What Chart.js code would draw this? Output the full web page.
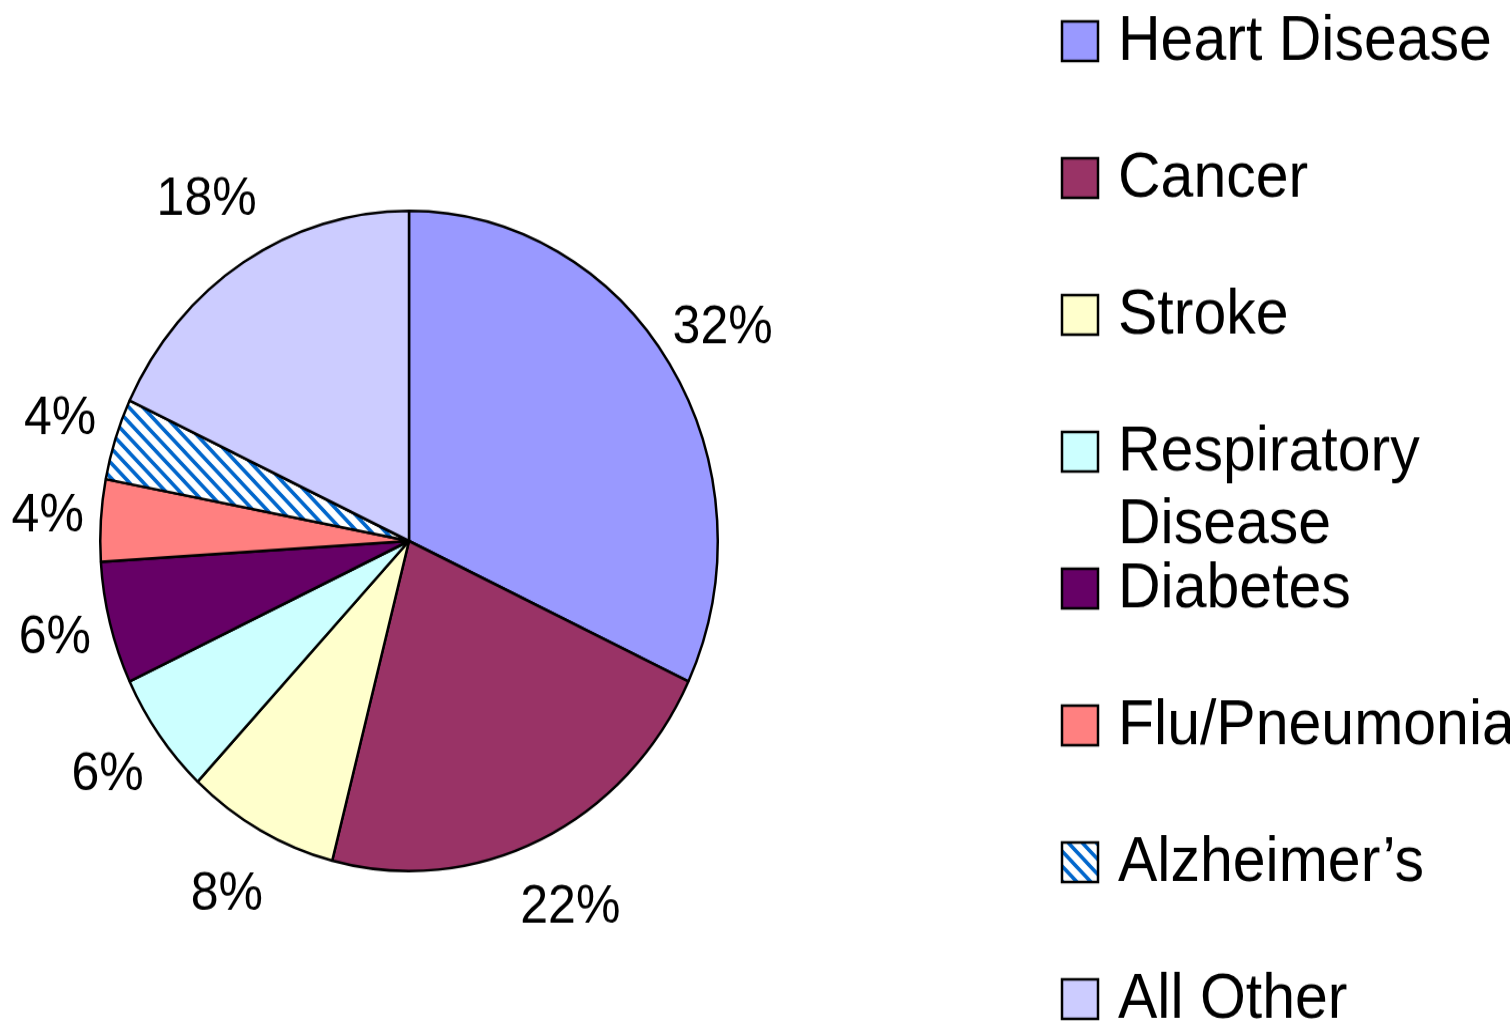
<!DOCTYPE html>
<html>
<head>
<meta charset="utf-8">
<script src="https://cdn.jsdelivr.net/npm/chart.js@4"></script>
<style>
  html, body { margin: 0; padding: 0; background: #fff; overflow: hidden; }
  canvas { display: block; }
</style>
</head>
<body>
<!-- drawn at 955px high, shown stretched to 1021px like the original picture -->
<canvas id="causes" width="1510" height="955" style="width:1510px;height:1021px"></canvas>
<script>
let causeLabels = ['Heart Disease', 'Cancer', 'Stroke', 'Respiratory Disease', 'Diabetes', 'Flu/Pneumonia', 'Alzheimer\u2019s', 'All Other']
let causeShares = [32, 22, 8, 6, 6, 4, 4, 18]
let causeColors = ['#9999FF', '#993366', '#FFFFCC', '#CCFFFF', '#660066', '#FF8080', 'hatch', '#CCCCFF']

// blue diagonal stripes for the Alzheimer's slice
function makeHatch() {
  let tile = document.createElement('canvas')
  tile.width = 14
  tile.height = 14
  let c = tile.getContext('2d')
  c.fillStyle = '#fff'
  c.fillRect(0, 0, 14, 14)
  c.strokeStyle = '#0066CC'
  c.lineWidth = 3.6
  c.beginPath()
  c.moveTo(-7, -7); c.lineTo(21, 21)
  c.moveTo(-7, 7); c.lineTo(7, 21)
  c.moveTo(7, -7); c.lineTo(21, 7)
  c.stroke()
  return c.createPattern(tile, 'repeat')
}
let hatch = makeHatch()
let fills = causeColors.map(c => c === 'hatch' ? hatch : c)

const FONT = '"Liberation Sans", Arial, sans-serif'

let pieLabels = {
  id: 'pieLabels',
  afterDatasetsDraw(chart) {
    let ctx = chart.ctx
    let meta = chart.getDatasetMeta(0)
    ctx.save()
    ctx.font = '50px ' + FONT
    ctx.fillStyle = '#000'
    ctx.textAlign = 'center'
    ctx.textBaseline = 'middle'
    meta.data.forEach((arc, i) => {
      let p = arc.getProps(['x', 'y', 'startAngle', 'endAngle', 'outerRadius'], true)
      let mid = (p.startAngle + p.endAngle) / 2
      let r = p.outerRadius + 52 + 20 * Math.abs(Math.sin(mid))
      ctx.fillText(causeShares[i] + '%', p.x + Math.cos(mid) * r, p.y + Math.sin(mid) * r)
    })
    ctx.restore()
  }
}

let sideLegend = {
  id: 'sideLegend',
  afterDraw(chart) {
    let ctx = chart.ctx
    ctx.save()
    ctx.font = '59px ' + FONT
    ctx.textBaseline = 'middle'
    ctx.textAlign = 'left'
    causeLabels.forEach((label, i) => {
      let cy = 38 + i * 128
      ctx.fillStyle = fills[i]
      ctx.fillRect(1062, cy - 18, 36, 37)
      ctx.lineWidth = 2.5
      ctx.strokeStyle = '#000'
      ctx.strokeRect(1062, cy - 18, 36, 37)
      // wrap words that run past the right edge
      let words = label.split(' ')
      let lines = []
      let line = ''
      words.forEach(w => {
        let test = line ? line + ' ' + w : w
        if (line && ctx.measureText(test).width > 420) {
          lines.push(line)
          line = w
        } else {
          line = test
        }
      })
      lines.push(line)
      ctx.fillStyle = '#000'
      lines.forEach((t, k) => ctx.fillText(t, 1118, cy + 2 + k * 68))
    })
    ctx.restore()
  }
}

let causesChart = new Chart(document.querySelector('#causes'), {
  type: 'pie',
  plugins: [pieLabels, sideLegend],
  data: {
    labels: causeLabels,
    datasets: [{
      data: causeShares,
      backgroundColor: fills,
      borderColor: '#000',
      borderWidth: 2.5
    }]
  },
  options: {
    responsive: false,
    animation: false,
    layout: {
      padding: {
        left: 99,
        right: 791,
        top: 196,
        bottom: 139
      }
    },
    plugins: {
      legend: {
        display: false
      },
      tooltip: {
        enabled: false
      }
    }
  }
})
</script>
</body>
</html>
